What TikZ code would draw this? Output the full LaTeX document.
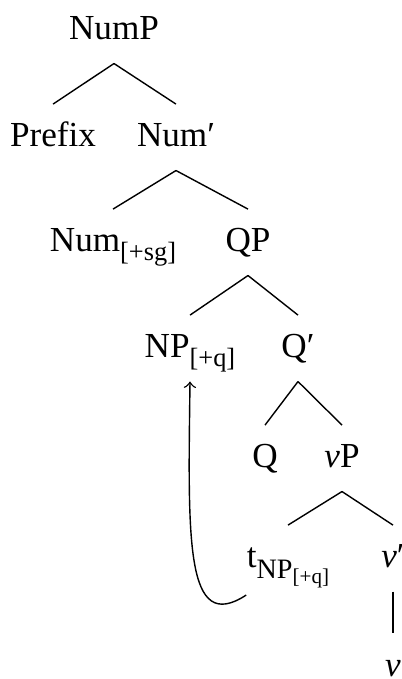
\documentclass[tikz,border=0pt]{standalone}
\usepackage{fontspec}
\setmainfont{Liberation Serif}
\usepackage{tikz}
\newcommand{\lowsub}[3]{\raisebox{-#2}{\fontsize{#1}{#1}\selectfont #3}}

\begin{document}
\begin{tikzpicture}[line width=0.4pt,
    lbl/.style={anchor=base, inner xsep=1pt, inner ysep=4pt, text height=8pt, text depth=2.5pt}]
  \useasboundingbox (0,0) rectangle (4.01,6.79);
  % labels, top to bottom
  \node[lbl] (nump)   at (1.14,6.39) {NumP};
  \node[lbl] (prefix) at (0.53,5.32) {Prefix};
  \node[lbl] (numbar) at (1.76,5.32) {Num′};
  \node[lbl] (numsg)  at (1.13,4.27) {Num\lowsub{7.5}{2.5pt}{[+sg]}};
  \node[lbl] (qp)     at (2.48,4.27) {QP};
  \node[lbl] (npq)    at (1.90,3.21) {NP\lowsub{7.5}{2.5pt}{[+q]}};
  \node[lbl] (qbar)   at (2.98,3.21) {Q′};
  \node[lbl] (q)      at (2.65,2.11) {Q};
  \node[lbl] (vp)     at (3.42,2.11) {{\itshape ν}P};
  \node[lbl] (tnp)    at (2.88,1.11) {t\lowsub{8}{3pt}{NP\lowsub{6}{1.5pt}{[+q]}}};
  \node[lbl] (vbar)   at (3.93,1.11) {{\itshape ν}′};
  \node[lbl] (v)      at (3.93,0.03) {{\itshape ν}};
  % branches
  \foreach \p/\c in {nump/prefix, nump/numbar, numbar/numsg, numbar/qp, qp/npq, qp/qbar,
                     qbar/q, qbar/vp, vp/tnp, vp/vbar, vbar/v}{ \draw (\p.south) -- (\c.north); }
  % movement of NP[+q]
  \draw[->] ([xshift=1pt,yshift=-1pt]tnp.south west) .. controls (1.85,0.44) and (1.88,1.39) .. (npq.south);
\end{tikzpicture}
\end{document}
